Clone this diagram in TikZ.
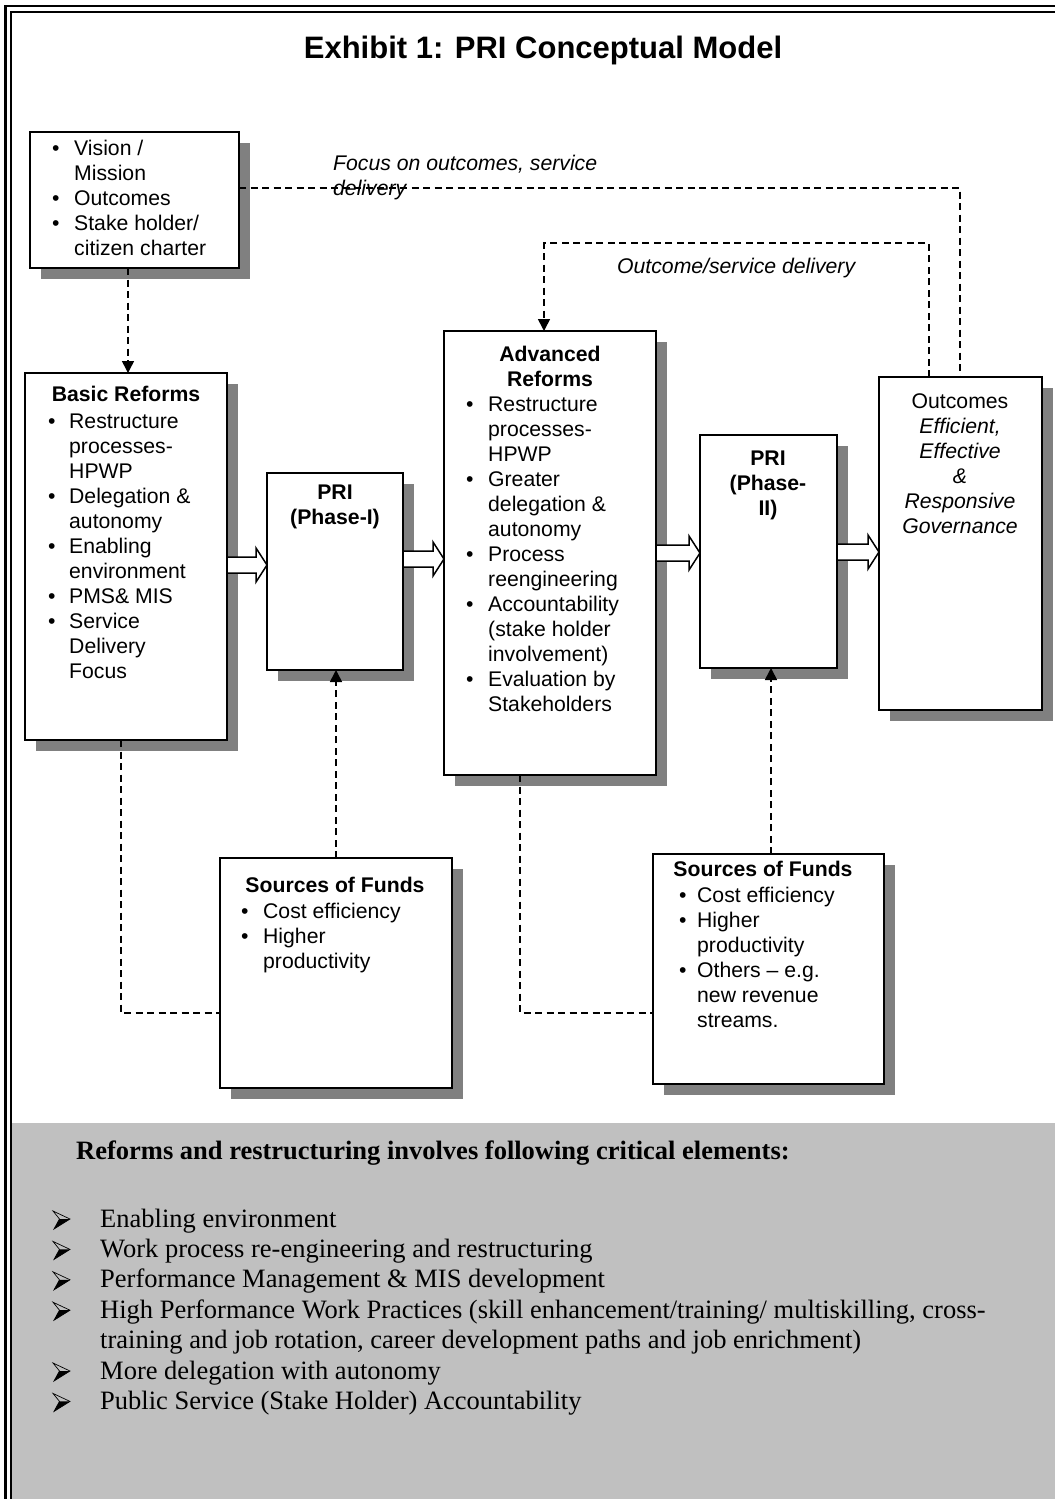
\documentclass[tikz,border=0pt]{standalone}
\usepackage{fontspec}
\setmainfont{Liberation Sans}
\newfontfamily\serifface{Liberation Serif}
\usetikzlibrary{calc,shadows,arrows.meta}
\definecolor{panel}{HTML}{C0C0C0}
\definecolor{shade}{HTML}{808080}
\newcommand\itm[1]{\makebox[#1][l]{•}}
\newcommand\fatarrow[3]{%
  \draw[fat] (#1.east |- 0,#3-8) -- ($(#2.west |- 0,#3-8)+(-11,0)$)
    -- ($(#2.west |- 0,#3-17)+(-11,0)$) -- (#2.west |- 0,#3)
    -- ($(#2.west |- 0,#3+17)+(-11,0)$) -- ($(#2.west |- 0,#3+8)+(-11,0)$)
    -- (#1.east |- 0,#3+8) -- cycle;}
\newcommand\harrow[1]{%
  \draw[line width=0.7pt,line join=miter] (53,#1-16) -- (70,#1-8) -- (54,#1+2) -- (59.5,#1-8) -- cycle;
  \fill (59.5,#1-8) -- (70,#1-8) -- (54,#1+2) -- cycle;}
\tikzset{
  box/.style={draw, line width=1.5pt, fill=white, inner sep=0pt, outer sep=0pt, anchor=north west,
    drop shadow={shadow xshift=11pt, shadow yshift=-11pt, fill=shade, opacity=1}},
  boxtxt/.style={inner sep=0pt, anchor=base, font=\fontsize{21.2}{25}\selectfont},
  boxhead/.style={inner sep=0pt, anchor=base, font=\fontsize{21.2}{25}\selectfont\bfseries},
  lst/.style={inner sep=0pt, anchor=base west, font=\fontsize{21.2}{25}\selectfont},
  lbl/.style={inner sep=0pt, anchor=base west, font=\fontsize{21.2}{25}\selectfont\itshape},
  dline/.style={line width=1.6pt, dash pattern=on 7pt off 4.5pt},
  darrow/.style={dline, -{Triangle[length=12pt,width=12pt]}},
  fat/.style={draw, line width=1.5pt, fill=white, line join=miter},
  btxt/.style={inner sep=0pt, anchor=base west, font=\serifface\fontsize{26.5}{30.4}\selectfont},
}
\begin{document}
\begin{tikzpicture}[x=1pt,y=-1pt]
\useasboundingbox (0,0) rectangle (1055,1499);
% grey panel and frame
\fill[panel] (12,1123) rectangle (1055,1499);
\draw[line width=2.5pt] (5.5,1499) -- (5.5,6) -- (1055,6);
\draw[line width=2pt] (11,1499) -- (11,11.5) -- (1055,11.5);
% title
\node[inner sep=0pt, anchor=base, font=\fontsize{31}{36}\selectfont\bfseries] (title) at (543,58) {Exhibit 1: PRI Conceptual Model};
% boxes
\node[box, minimum width=209pt, minimum height=136pt] (vis) at (30,132) {};
\node[box, minimum width=202pt, minimum height=367pt] (basic) at (25,373) {};
\node[box, minimum width=136pt, minimum height=197pt] (pri1) at (267,473) {};
\node[box, minimum width=212pt, minimum height=444pt] (adv) at (444,331) {};
\node[box, minimum width=137pt, minimum height=233pt] (pri2) at (700,435) {};
\node[box, minimum width=163pt, minimum height=333pt] (outc) at (879,377) {};
\node[box, minimum width=232pt, minimum height=230pt] (src1) at (220,858) {};
\node[box, minimum width=231pt, minimum height=230pt] (src2) at (653,854) {};
% box texts
\node[lst] (visL) at (52,155) {\begin{tabular}[t]{@{}l@{}l@{}}
 \itm{22pt} & Vision /\\ & Mission\\ \itm{22pt} & Outcomes\\ \itm{22pt} & Stake holder/\\ & citizen charter\end{tabular}};
\node[boxhead] (basicH) at (126,401) {Basic Reforms};
\node[lst] (basicL) at (48,428) {\begin{tabular}[t]{@{}l@{}l@{}}
 \itm{21pt} & Restructure\\ & processes-\\ & HPWP\\ \itm{21pt} & Delegation \&\\ & autonomy\\
 \itm{21pt} & Enabling\\ & environment\\ \itm{21pt} & PMS\& MIS\\ \itm{21pt} & Service\\ & Delivery\\ & Focus\end{tabular}};
\node[boxhead] (pri1T) at (335,499) {\begin{tabular}[t]{@{}c@{}}PRI\\(Phase-I)\end{tabular}};
\node[boxhead] (advH) at (550,361) {\begin{tabular}[t]{@{}c@{}}Advanced\\Reforms\end{tabular}};
\node[lst] (advL) at (466,411) {\begin{tabular}[t]{@{}l@{}l@{}}
 \itm{22pt} & Restructure\\ & processes-\\ & HPWP\\ \itm{22pt} & Greater\\ & delegation \&\\ & autonomy\\
 \itm{22pt} & Process\\ & reengineering\\ \itm{22pt} & Accountability\\ & (stake holder\\ & involvement)\\
 \itm{22pt} & Evaluation by\\ & Stakeholders\end{tabular}};
\node[boxhead] (pri2T) at (768,465) {\begin{tabular}[t]{@{}c@{}}PRI\\(Phase-\\II)\end{tabular}};
\node[boxtxt] (outcT) at (960,408) {\begin{tabular}[t]{@{}c@{}}Outcomes\\\textit{Efficient,}\\\textit{Effective}\\\textit{\&}\\\textit{Responsive}\\\textit{Governance}\end{tabular}};
\node[boxhead] (src1H) at (335,892) {Sources of Funds};
\node[lst] (src1L) at (241,918) {\begin{tabular}[t]{@{}l@{}l@{}}
 \itm{22pt} & Cost efficiency\\ \itm{22pt} & Higher\\ & productivity\end{tabular}};
\node[boxhead] (src2H) at (763,876) {Sources of Funds};
\node[lst] (src2L) at (679,902) {\begin{tabular}[t]{@{}l@{}l@{}}
 \itm{18pt} & Cost efficiency\\ \itm{18pt} & Higher\\ & productivity\\ \itm{18pt} & Others – e.g.\\ & new revenue\\ & streams.\end{tabular}};
% labels
\node[lbl] (focus) at (333,170) {\begin{tabular}[t]{@{}l@{}}Focus on outcomes, service\\delivery\end{tabular}};
\node[lbl] (osd) at (617,273) {Outcome/service delivery};
% block arrows
\fatarrow{basic}{pri1}{565}
\fatarrow{pri1}{adv}{559}
\fatarrow{adv}{pri2}{553}
\fatarrow{pri2}{outc}{552}
% dashed connectors
\draw[dline] (vis.east |- 0,188) -| ($(outc.north west)+(81,0)$);
\draw[darrow] ($(outc.north west)+(50,0)$) |- (544,243) -- (adv.north -| 544,0);
\draw[darrow] (vis.south -| 128,0) -- (basic.north -| 128,0);
\draw[dline] (basic.south -| 121,0) |- (src1.west |- 0,1013);
\draw[darrow] (src1.north -| 336,0) -- (pri1.south -| 336,0);
\draw[dline] (adv.south -| 520,0) |- (src2.west |- 0,1013);
\draw[darrow] (src2.north -| 771,0) -- (pri2.south -| 771,0);
% bottom list
\node[btxt, font=\serifface\bfseries\fontsize{26.5}{30.4}\selectfont] (head) at (76,1159) {Reforms and restructuring involves following critical elements:};
\node[btxt] (items) at (100,1227) {\begin{tabular}[t]{@{}l@{}}
 Enabling environment\\
 Work process re-engineering and restructuring\\
 Performance Management \& MIS development\\
 High Performance Work Practices (skill enhancement/training/ multiskilling, cross-\\
 training and job rotation, career development paths and job enrichment)\\
 More delegation with autonomy\\
 Public Service (Stake Holder) Accountability\end{tabular}};
\harrow{1227}
\harrow{1257.4}
\harrow{1287.8}
\harrow{1318.2}
\harrow{1379}
\harrow{1409.4}
\end{tikzpicture}
\end{document}
